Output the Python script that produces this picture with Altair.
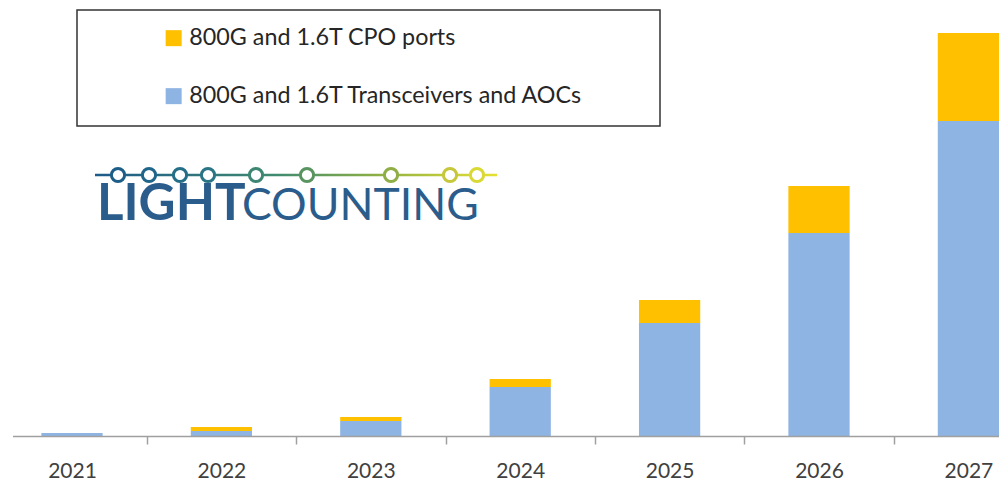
import altair as alt
import pandas as pd

years = ["2021", "2022", "2023", "2024", "2025", "2026", "2027"]
transceivers = [0.3, 0.5, 1.5, 4.9, 11.3, 20.3, 31.5]
cpo = [0.0, 0.4, 0.4, 0.8, 2.3, 4.7, 8.8]
series_names = ["800G and 1.6T CPO ports", "800G and 1.6T Transceivers and AOCs"]
series_colors = ["#FFC000", "#8EB4E3"]

rows = []
for y, t, c in zip(years, transceivers, cpo):
    rows.append({"year": y, "series": series_names[1], "value": t, "ord": 0})
    rows.append({"year": y, "series": series_names[0], "value": c, "ord": 1})
df = pd.DataFrame(rows)

FONT = "Lato"

bars = alt.Chart(df).mark_bar(width={"band": 0.41}).encode(
    x=alt.X("year:N", sort=years, title=None,
            scale=alt.Scale(range=[-10.7, 1035.1], paddingInner=0, paddingOuter=0, round=False),
            axis=alt.Axis(domain=False, tickBand="extent", tickSize=8, tickColor="#a0a0a0",
                          tickWidth=1.5, labelFontSize=21, labelColor="#404040",
                          labelFont=FONT, labelPadding=16, labelAngle=0)),
    y=alt.Y("value:Q", stack="zero", axis=None,
            scale=alt.Scale(domain=[0, 42.8], nice=False, zero=True)),
    color=alt.Color("series:N",
                    scale=alt.Scale(domain=series_names, range=series_colors),
                    legend=alt.Legend(orient="none", legendX=154, legendY=18.5, title=None,
                                      direction="vertical", symbolType="square",
                                      symbolSize=256, symbolStrokeWidth=0,
                                      labelFontSize=23.3, labelFont=FONT, labelColor="#262626",
                                      labelOffset=4, rowPadding=34, padding=0, labelLimit=0)),
    order=alt.Order("ord:Q", sort="ascending"),
)

one = pd.DataFrame({"a": [0]})

box = alt.Chart(one).mark_rect(fill="white", stroke="#333333", strokeWidth=1.5).encode(
    x=alt.value(69), x2=alt.value(652), y=alt.value(2), y2=alt.value(118))

baseline = alt.Chart(one).mark_rule(stroke="#a0a0a0", strokeWidth=1.5).encode(
    x=alt.value(5), x2=alt.value(999), y=alt.value(428.5))

# logo
logo_line = alt.Chart(one).mark_rect(
    fill=alt.LinearGradient(gradient="linear", x1=0, x2=1, y1=0, y2=0,
                            stops=[alt.GradientStop(offset=0, color="#1d5a8a"),
                                   alt.GradientStop(offset=0.45, color="#3f8a70"),
                                   alt.GradientStop(offset=0.7, color="#8caf45"),
                                   alt.GradientStop(offset=1, color="#e6e033")])
).encode(x=alt.value(87), x2=alt.value(489), y=alt.value(165.7), y2=alt.value(168.3))

circ_x = [110, 141, 172, 200, 248, 299, 383, 442, 469]
circ_c = ["#1d5e88", "#20668a", "#256e88", "#2a7585", "#3e8674", "#599460",
          "#8fae45", "#c6c73a", "#d9d935"]
circ_df = pd.DataFrame({"cx": circ_x, "cy": [167] * len(circ_x), "col": circ_c})
circles = alt.Chart(circ_df).mark_circle(fill="white", opacity=1, strokeWidth=3, size=175).encode(
    x=alt.X("cx:Q", scale=None, axis=None),
    y=alt.Y("cy:Q", scale=None, axis=None),
    stroke=alt.Stroke("col:N", scale=None),
)

light = alt.Chart(one).mark_text(text="LIGHT", font=FONT, fontWeight="bold", fontSize=51,
                                 fill="#2b5d8c", align="left", baseline="alphabetic").encode(
    x=alt.value(89), y=alt.value(212))
counting = alt.Chart(one).mark_text(text="COUNTING", font=FONT, fontWeight="normal", fontSize=44.5,
                                    fill="#2b5d8c", align="left", baseline="alphabetic").encode(
    x=alt.value(234), y=alt.value(212))

chart = alt.layer(bars, box, baseline, logo_line, circles, light, counting).resolve_scale(
    x="independent", y="independent"
).properties(
    width=991, height=428, autosize="none",
    padding={"left": 0, "top": 0, "right": 0, "bottom": 45},
).configure_view(stroke=None)

chart.save("out.html", embed_options={"renderer": "svg", "actions": False})
